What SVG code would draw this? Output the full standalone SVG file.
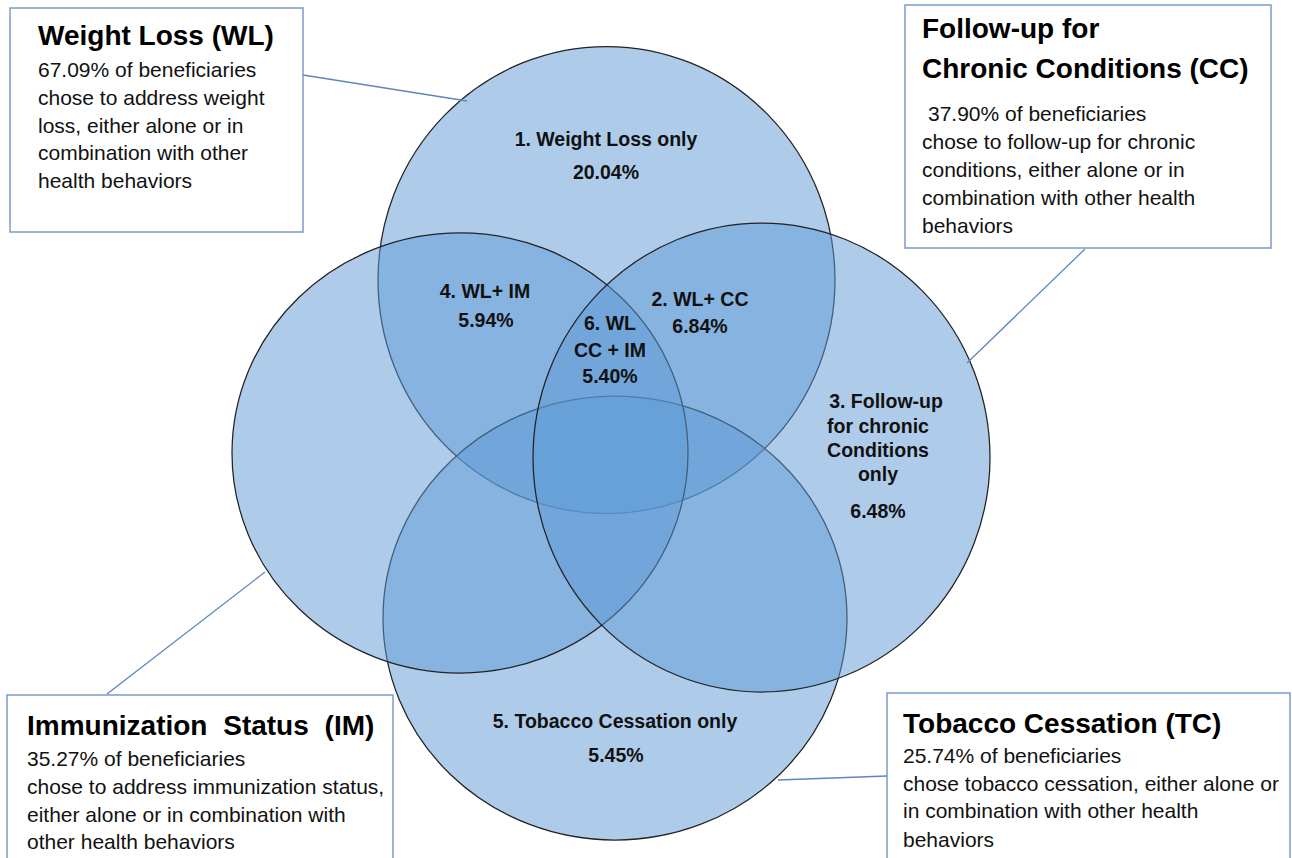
<svg xmlns="http://www.w3.org/2000/svg" width="1292" height="858" viewBox="0 0 1292 858">
<style>
  .set { fill: #5D99D5; fill-opacity: 0.5; stroke: #222222; stroke-width: 1.25; }
  .box { fill: #FFFFFF; stroke: #7B9CC7; stroke-width: 1.5; }
  .conn { stroke: #5B87BD; stroke-width: 1.3; fill: none; }
  .title { font-family: "Liberation Sans", Arial, sans-serif; font-weight: bold; font-size: 28px; fill: #000; }
  .body { font-family: "Liberation Sans", Arial, sans-serif; font-size: 21px; fill: #111; }
  .lbl { font-family: "Liberation Sans", Arial, sans-serif; font-weight: bold; font-size: 19.5px; fill: #111; text-anchor: middle; }
</style>
<rect x="0" y="0" width="1292" height="858" fill="#FFFFFF"/>

<g id="set-wl">
  <ellipse class="set" cx="606.5" cy="280" rx="228.5" ry="233.5"/>
</g>
<g id="set-tc">
  <ellipse class="set" cx="615" cy="618" rx="232" ry="222"/>
</g>
<g id="set-im">
  <ellipse class="set" cx="460" cy="453" rx="228" ry="220"/>
</g>
<g id="set-cc">
  <ellipse class="set" cx="761.5" cy="457.5" rx="228.5" ry="234.5"/>
</g>

<g id="region-labels">
  <text class="lbl" x="606" y="146">1. Weight Loss only</text>
  <text class="lbl" x="606" y="179">20.04%</text>
  <text class="lbl" x="485" y="298">4. WL+ IM</text>
  <text class="lbl" x="486" y="327">5.94%</text>
  <text class="lbl" x="700" y="306">2. WL+ CC</text>
  <text class="lbl" x="700" y="333">6.84%</text>
  <text class="lbl" x="610" y="330">6. WL</text>
  <text class="lbl" x="610" y="357">CC + IM</text>
  <text class="lbl" x="610" y="383">5.40%</text>
  <text class="lbl" x="886" y="408">3. Follow-up</text>
  <text class="lbl" x="878" y="433">for chronic</text>
  <text class="lbl" x="878" y="457">Conditions</text>
  <text class="lbl" x="878" y="481">only</text>
  <text class="lbl" x="878" y="518">6.48%</text>
  <text class="lbl" x="615" y="728">5. Tobacco Cessation only</text>
  <text class="lbl" x="616" y="762">5.45%</text>
</g>

<g id="box-wl">
  <rect class="box" x="10" y="8" width="293" height="224"/>
  <text class="title" x="38" y="45">Weight Loss (WL)</text>
  <text class="body" x="38" y="77">67.09% of beneficiaries</text>
  <text class="body" x="38" y="105">chose to address weight</text>
  <text class="body" x="38" y="132.5">loss, either alone or in</text>
  <text class="body" x="38" y="160">combination with other</text>
  <text class="body" x="38" y="188">health behaviors</text>
</g>

<g id="box-cc">
  <rect class="box" x="905" y="5" width="366" height="243"/>
  <text class="title" x="922" y="38">Follow-up for</text>
  <text class="title" x="922" y="78">Chronic Conditions (CC)</text>
  <text class="body" x="928" y="121">37.90% of beneficiaries</text>
  <text class="body" x="922" y="149">chose to follow-up for chronic</text>
  <text class="body" x="922" y="177">conditions, either alone or in</text>
  <text class="body" x="922" y="205">combination with other health</text>
  <text class="body" x="922" y="233">behaviors</text>
</g>

<g id="box-im">
  <rect class="box" x="7" y="695" width="386" height="180"/>
  <text class="title" x="27" y="735" word-spacing="8">Immunization Status (IM)</text>
  <text class="body" x="27" y="766">35.27% of beneficiaries</text>
  <text class="body" x="27" y="794">chose to address immunization status,</text>
  <text class="body" x="27" y="822">either alone or in combination with</text>
  <text class="body" x="27" y="849">other health behaviors</text>
</g>

<g id="box-tc">
  <rect class="box" x="887" y="693" width="403" height="180"/>
  <text class="title" x="903" y="733">Tobacco Cessation (TC)</text>
  <text class="body" x="903" y="763">25.74% of beneficiaries</text>
  <text class="body" x="903" y="791">chose tobacco cessation, either alone or</text>
  <text class="body" x="903" y="818">in combination with other health</text>
  <text class="body" x="903" y="847">behaviors</text>
</g>

<g id="connectors">
  <line class="conn" x1="303" y1="75" x2="467" y2="101"/>
  <line class="conn" x1="1085" y1="249" x2="967" y2="363"/>
  <line class="conn" x1="107" y1="694" x2="265" y2="572"/>
  <line class="conn" x1="778" y1="780" x2="887" y2="776"/>
</g>
</svg>
